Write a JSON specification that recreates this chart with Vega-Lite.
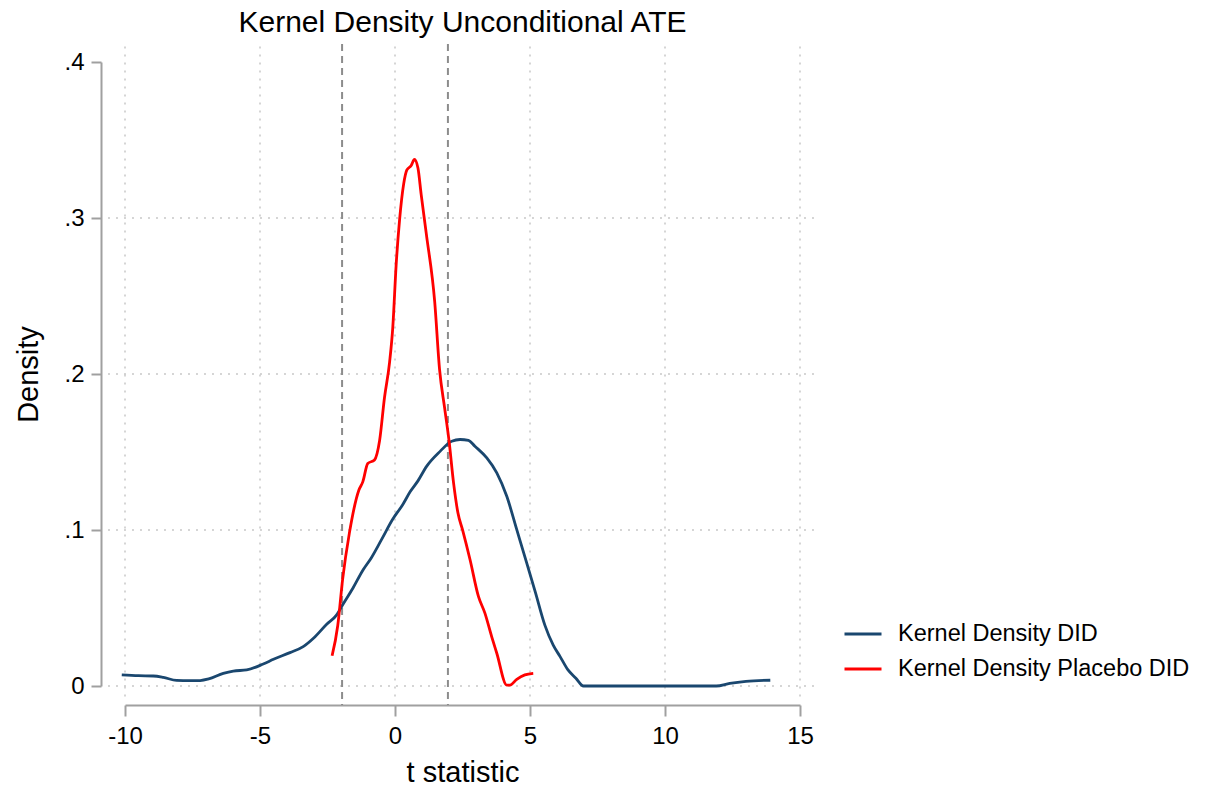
{
  "$schema": "https://vega.github.io/schema/vega-lite/v6.json",
  "autosize": {"type": "none"},
  "padding": {"left": 125, "top": 62, "right": 405, "bottom": 103},
  "width": 675,
  "height": 624,
  "background": "white",
  "config": {
    "view": {"stroke": null},
    "font": "Liberation Sans",
    "axis": {
      "domainColor": "#a0a0a0",
      "domainWidth": 2,
      "tickColor": "#a0a0a0",
      "tickWidth": 2,
      "tickSize": 10,
      "labelFont": "Liberation Sans",
      "labelFontSize": 24,
      "labelColor": "black",
      "labelFlush": false,
      "titleFont": "Liberation Sans",
      "titleFontSize": 29,
      "titleFontWeight": "normal",
      "titleColor": "black",
      "grid": false
    }
  },
  "title": {
    "text": "Kernel Density Unconditional ATE",
    "font": "Liberation Sans",
    "fontSize": 30,
    "fontWeight": "normal",
    "color": "black",
    "anchor": "middle",
    "offset": 5
  },
  "datasets": {
    "curves": [
      {"series": "Kernel Density DID", "t": -10.12, "d": 0.0071},
      {"series": "Kernel Density DID", "t": -9.5, "d": 0.0066},
      {"series": "Kernel Density DID", "t": -8.95, "d": 0.0064},
      {"series": "Kernel Density DID", "t": -8.58, "d": 0.0055},
      {"series": "Kernel Density DID", "t": -8.09, "d": 0.0036},
      {"series": "Kernel Density DID", "t": -7.6, "d": 0.0034},
      {"series": "Kernel Density DID", "t": -7.22, "d": 0.0035},
      {"series": "Kernel Density DID", "t": -6.9, "d": 0.0045},
      {"series": "Kernel Density DID", "t": -6.36, "d": 0.0081},
      {"series": "Kernel Density DID", "t": -5.99, "d": 0.0096},
      {"series": "Kernel Density DID", "t": -5.49, "d": 0.0103},
      {"series": "Kernel Density DID", "t": -4.88, "d": 0.0141},
      {"series": "Kernel Density DID", "t": -4.5, "d": 0.0171},
      {"series": "Kernel Density DID", "t": -3.89, "d": 0.0214},
      {"series": "Kernel Density DID", "t": -3.4, "d": 0.0252},
      {"series": "Kernel Density DID", "t": -3.02, "d": 0.0306},
      {"series": "Kernel Density DID", "t": -2.53, "d": 0.0396},
      {"series": "Kernel Density DID", "t": -2.16, "d": 0.0456},
      {"series": "Kernel Density DID", "t": -1.96, "d": 0.0515},
      {"series": "Kernel Density DID", "t": -1.56, "d": 0.0627},
      {"series": "Kernel Density DID", "t": -1.19, "d": 0.0742},
      {"series": "Kernel Density DID", "t": -0.88, "d": 0.0821},
      {"series": "Kernel Density DID", "t": -0.51, "d": 0.0935},
      {"series": "Kernel Density DID", "t": -0.08, "d": 0.107},
      {"series": "Kernel Density DID", "t": 0.29, "d": 0.1164},
      {"series": "Kernel Density DID", "t": 0.56, "d": 0.1245},
      {"series": "Kernel Density DID", "t": 0.85, "d": 0.1315},
      {"series": "Kernel Density DID", "t": 1.17, "d": 0.1408},
      {"series": "Kernel Density DID", "t": 1.67, "d": 0.1504},
      {"series": "Kernel Density DID", "t": 2.1, "d": 0.1569},
      {"series": "Kernel Density DID", "t": 2.41, "d": 0.158},
      {"series": "Kernel Density DID", "t": 2.72, "d": 0.1575},
      {"series": "Kernel Density DID", "t": 2.96, "d": 0.1537},
      {"series": "Kernel Density DID", "t": 3.4, "d": 0.1462},
      {"series": "Kernel Density DID", "t": 3.77, "d": 0.1366},
      {"series": "Kernel Density DID", "t": 4.14, "d": 0.1216},
      {"series": "Kernel Density DID", "t": 4.51, "d": 0.1002},
      {"series": "Kernel Density DID", "t": 4.88, "d": 0.0788},
      {"series": "Kernel Density DID", "t": 5.2, "d": 0.06},
      {"series": "Kernel Density DID", "t": 5.55, "d": 0.039},
      {"series": "Kernel Density DID", "t": 5.86, "d": 0.0262},
      {"series": "Kernel Density DID", "t": 6.11, "d": 0.019},
      {"series": "Kernel Density DID", "t": 6.4, "d": 0.0105},
      {"series": "Kernel Density DID", "t": 6.7, "d": 0.005},
      {"series": "Kernel Density DID", "t": 6.98, "d": 0},
      {"series": "Kernel Density DID", "t": 8, "d": 0},
      {"series": "Kernel Density DID", "t": 9, "d": 0},
      {"series": "Kernel Density DID", "t": 10, "d": 0},
      {"series": "Kernel Density DID", "t": 11, "d": 0},
      {"series": "Kernel Density DID", "t": 11.9, "d": 0},
      {"series": "Kernel Density DID", "t": 12.4, "d": 0.0017},
      {"series": "Kernel Density DID", "t": 13.0, "d": 0.003},
      {"series": "Kernel Density DID", "t": 13.9, "d": 0.0037},
      {"series": "Kernel Density Placebo DID", "t": -2.33, "d": 0.0194},
      {"series": "Kernel Density Placebo DID", "t": -2.12, "d": 0.0388},
      {"series": "Kernel Density Placebo DID", "t": -1.94, "d": 0.0684},
      {"series": "Kernel Density Placebo DID", "t": -1.69, "d": 0.098},
      {"series": "Kernel Density Placebo DID", "t": -1.34, "d": 0.1255},
      {"series": "Kernel Density Placebo DID", "t": -1.19, "d": 0.131},
      {"series": "Kernel Density Placebo DID", "t": -1.01, "d": 0.1426},
      {"series": "Kernel Density Placebo DID", "t": -0.76, "d": 0.1449},
      {"series": "Kernel Density Placebo DID", "t": -0.57, "d": 0.1574},
      {"series": "Kernel Density Placebo DID", "t": -0.39, "d": 0.1848},
      {"series": "Kernel Density Placebo DID", "t": -0.2, "d": 0.2076},
      {"series": "Kernel Density Placebo DID", "t": -0.08, "d": 0.2304},
      {"series": "Kernel Density Placebo DID", "t": 0.04, "d": 0.2692},
      {"series": "Kernel Density Placebo DID", "t": 0.17, "d": 0.2989},
      {"series": "Kernel Density Placebo DID", "t": 0.32, "d": 0.3217},
      {"series": "Kernel Density Placebo DID", "t": 0.44, "d": 0.3308},
      {"series": "Kernel Density Placebo DID", "t": 0.6, "d": 0.3336},
      {"series": "Kernel Density Placebo DID", "t": 0.72, "d": 0.3375},
      {"series": "Kernel Density Placebo DID", "t": 0.85, "d": 0.332},
      {"series": "Kernel Density Placebo DID", "t": 0.97, "d": 0.315},
      {"series": "Kernel Density Placebo DID", "t": 1.16, "d": 0.2898},
      {"series": "Kernel Density Placebo DID", "t": 1.47, "d": 0.2464},
      {"series": "Kernel Density Placebo DID", "t": 1.65, "d": 0.203},
      {"series": "Kernel Density Placebo DID", "t": 1.84, "d": 0.178},
      {"series": "Kernel Density Placebo DID", "t": 2.0, "d": 0.1574},
      {"series": "Kernel Density Placebo DID", "t": 2.17, "d": 0.13},
      {"series": "Kernel Density Placebo DID", "t": 2.33, "d": 0.111},
      {"series": "Kernel Density Placebo DID", "t": 2.5, "d": 0.1002},
      {"series": "Kernel Density Placebo DID", "t": 2.78, "d": 0.0809},
      {"series": "Kernel Density Placebo DID", "t": 3.09, "d": 0.0574},
      {"series": "Kernel Density Placebo DID", "t": 3.33, "d": 0.0467},
      {"series": "Kernel Density Placebo DID", "t": 3.58, "d": 0.0317},
      {"series": "Kernel Density Placebo DID", "t": 3.77, "d": 0.021},
      {"series": "Kernel Density Placebo DID", "t": 4.14, "d": 0.0006},
      {"series": "Kernel Density Placebo DID", "t": 4.26, "d": 0.0006},
      {"series": "Kernel Density Placebo DID", "t": 4.51, "d": 0.0043},
      {"series": "Kernel Density Placebo DID", "t": 4.81, "d": 0.0071},
      {"series": "Kernel Density Placebo DID", "t": 5.12, "d": 0.0081}
    ],
    "hgrid": [{"d": 0}, {"d": 0.1}, {"d": 0.2}, {"d": 0.3}],
    "vgrid": [{"t": -10}, {"t": -5}, {"t": 0}, {"t": 5}, {"t": 10}, {"t": 15}],
    "crit": [{"t": -1.96}, {"t": 1.96}]
  },
  "layer": [
    {
      "data": {"name": "hgrid"},
      "mark": {"type": "rule", "color": "#c8c8c8", "strokeWidth": 1.5, "strokeDash": [2, 6], "clip": false},
      "encoding": {
        "y": {"field": "d", "type": "quantitative", "title": "Density"},
        "x": {"datum": -10.63},
        "x2": {"datum": 15.67}
      }
    },
    {
      "data": {"name": "vgrid"},
      "mark": {"type": "rule", "color": "#c8c8c8", "strokeWidth": 1.5, "strokeDash": [2, 6], "clip": false},
      "encoding": {
        "x": {"field": "t", "type": "quantitative", "title": "t statistic"},
        "y": {"datum": 0.41},
        "y2": {"datum": -0.009}
      }
    },
    {
      "data": {"name": "crit"},
      "mark": {"type": "rule", "color": "#8c8c8c", "strokeWidth": 2, "strokeDash": [7, 5], "clip": false},
      "encoding": {
        "x": {"field": "t", "type": "quantitative", "title": "t statistic"},
        "y": {"datum": 0.4116},
        "y2": {"datum": -0.0122}
      }
    },
    {
      "data": {"name": "curves"},
      "mark": {"type": "line", "strokeWidth": 2.8, "clip": false, "interpolate": "monotone"},
      "encoding": {
        "x": {
          "field": "t",
          "type": "quantitative",
          "title": "t statistic",
          "scale": {"domain": [-10, 15], "nice": false, "zero": false},
          "axis": {
            "values": [-10, -5, 0, 5, 10, 15],
            "labelExpr": "'' + datum.value",
            "offset": 19,
            "tickSize": 11,
            "labelPadding": 8,
            "titlePadding": 10
          }
        },
        "y": {
          "field": "d",
          "type": "quantitative",
          "title": "Density",
          "scale": {"domain": [0, 0.4], "nice": false, "zero": false},
          "axis": {
            "values": [0, 0.1, 0.2, 0.3, 0.4],
            "labelExpr": "datum.value == 0 ? '0' : replace(toString(datum.value), '0.', '.')",
            "offset": 24,
            "labelPadding": 7,
            "titlePadding": 20
          }
        },
        "color": {
          "field": "series",
          "type": "nominal",
          "scale": {"domain": ["Kernel Density DID", "Kernel Density Placebo DID"], "range": ["#1a476f", "#ff0000"]},
          "legend": {
            "title": null,
            "orient": "none",
            "legendX": 718,
            "legendY": 552,
            "symbolType": "stroke",
            "symbolSize": 1369,
            "symbolStrokeWidth": 2.8,
            "labelFont": "Liberation Sans",
            "labelFontSize": 23.5,
            "labelColor": "black",
            "labelLimit": 400,
            "labelOffset": 15,
            "rowPadding": 3
          }
        },
        "order": {"field": "t", "type": "quantitative"}
      }
    }
  ]
}
